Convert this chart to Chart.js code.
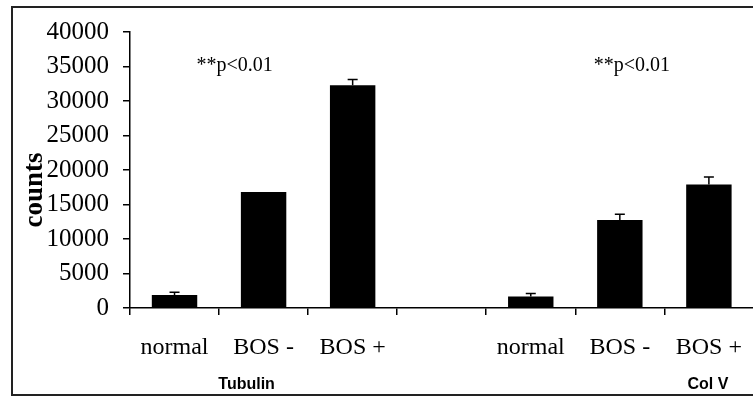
<!DOCTYPE html>
<html lang="en">
<head>
  <meta charset="UTF-8" />
  <title>counts</title>
  <script src="https://cdn.jsdelivr.net/npm/chart.js"></script>
  <style>
    body { margin: 0; padding: 0; background: #fff; overflow: hidden; }
    .wrap { width: 760px; height: 399px; position: relative; }
  </style>
</head>
<body>
  <div class="wrap"><canvas id="graf"></canvas></div>

  <script>
    // data
    const categories = ['normal', 'BOS -', 'BOS +', '', 'normal', 'BOS -', 'BOS +'];
    const counts = [1900, 16800, 32300, null, 1650, 12750, 17900];
    const errors = [400, null, 800, null, 450, 850, 1100];
    const yTicks = [0, 5000, 10000, 15000, 20000, 25000, 30000, 35000, 40000];
    const groupLabels = [{ text: 'Tubulin', at: 1, dx: -17 }, { text: 'Col V', at: 6, dx: -1 }];
    const notes = [{ text: '**p<0.01', at: 0, dx: 60 }, { text: '**p<0.01', at: 5, dx: 12 }];

    const serif = "'Liberation Serif', 'Times New Roman', serif";
    const sans = "'Liberation Sans', Arial, sans-serif";

    // error bars, frame and extra texts
    const extras = {
      id: 'extras',
      afterDatasetsDraw(chart) {
        const { ctx, scales: { x, y } } = chart;
        ctx.save();
        ctx.strokeStyle = '#000';
        ctx.lineWidth = 1.5;
        counts.forEach((v, i) => {
          if (v == null || errors[i] == null) return;
          const px = x.getPixelForValue(i);
          const top = y.getPixelForValue(v + errors[i]);
          const base = y.getPixelForValue(v);
          ctx.beginPath();
          ctx.moveTo(px, base);
          ctx.lineTo(px, top);
          ctx.moveTo(px - 5, top);
          ctx.lineTo(px + 5, top);
          ctx.stroke();
        });
        ctx.restore();
      },
      afterDraw(chart) {
        const { ctx, scales: { x, y } } = chart;
        ctx.save();
        // frame (right side is cut off in the original)
        ctx.strokeStyle = '#222';
        ctx.lineWidth = 2;
        ctx.beginPath();
        ctx.moveTo(760, 7);
        ctx.lineTo(12, 7);
        ctx.lineTo(12, 395);
        ctx.lineTo(760, 395);
        ctx.stroke();

        ctx.fillStyle = '#000';
        ctx.textAlign = 'center';
        ctx.textBaseline = 'middle';

        ctx.font = '20px ' + serif;
        notes.forEach(n => ctx.fillText(n.text, x.getPixelForValue(n.at) + n.dx, 66));

        ctx.font = 'bold 16px ' + sans;
        groupLabels.forEach(g => ctx.fillText(g.text, x.getPixelForValue(g.at) + g.dx, 385));

        // y axis title
        ctx.translate(35, 190);
        ctx.rotate(-Math.PI / 2);
        ctx.font = 'bold 27px ' + serif;
        ctx.fillText('counts', 0, 0);
        ctx.restore();
      }
    };

    new Chart(document.getElementById('graf'), {
      type: 'bar',
      data: {
        labels: categories,
        datasets: [{
          data: counts,
          backgroundColor: '#000',
          categoryPercentage: 1,
          barPercentage: 0.51
        }]
      },
      options: {
        responsive: true,
        maintainAspectRatio: false,
        animation: false,
        layout: { padding: { top: 32, right: 0, bottom: 0, left: 0 } },
        plugins: { legend: { display: false }, tooltip: { enabled: false } },
        scales: {
          x: {
            afterFit(scale) { scale.height = 91; },
            grid: { offset: true, drawOnChartArea: false, tickLength: 7, color: '#000', lineWidth: 1.5 },
            border: { color: '#000', width: 1.5 },
            ticks: { color: '#000', padding: 18, font: { family: serif, size: 24 }, maxRotation: 0, autoSkip: false }
          },
          y: {
            min: 0,
            max: 40000,
            afterFit(scale) { scale.width = 130; },
            afterBuildTicks(scale) { scale.ticks = yTicks.map(v => ({ value: v })); },
            grid: { drawOnChartArea: false, tickLength: 7, color: '#000', lineWidth: 1.5 },
            border: { color: '#000', width: 1.5 },
            ticks: { color: '#000', padding: 14, font: { family: serif, size: 25 }, callback: v => String(v) }
          }
        }
      },
      plugins: [extras]
    });
  </script>
</body>
</html>
